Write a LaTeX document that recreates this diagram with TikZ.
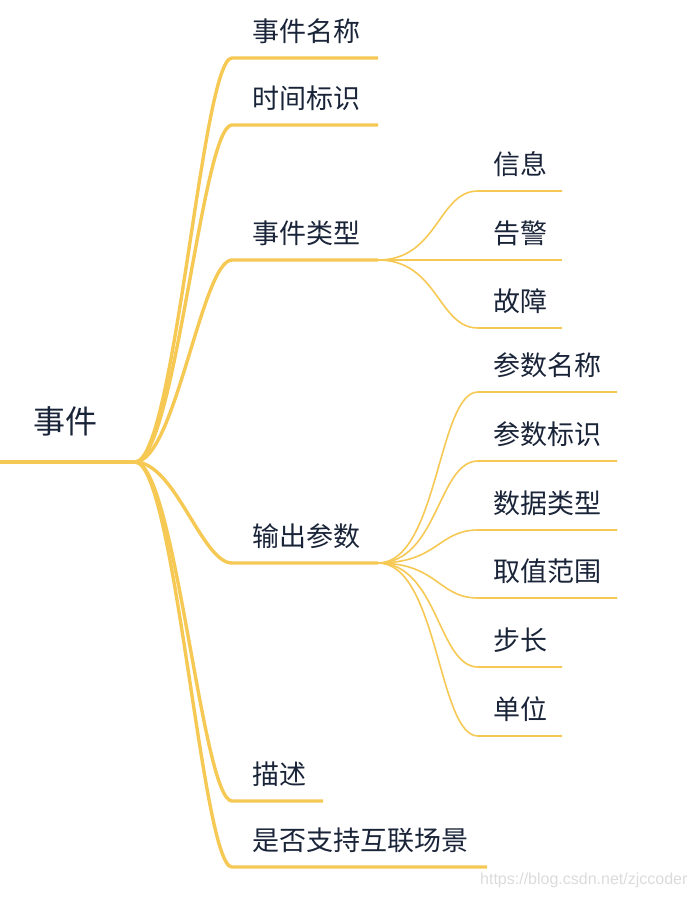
\documentclass[tikz,border=0pt]{standalone}
\usepackage{fontspec}
\newfontfamily\cjk{Noto Sans CJK SC}
\setsansfont{Liberation Sans}
\definecolor{branch}{RGB}{246,200,84}
\definecolor{ink}{RGB}{26,36,56}
\tikzset{
  topic/.style={anchor=west, inner sep=0pt, text=ink, font=\cjk\fontsize{27bp}{32bp}\selectfont},
  main/.style={draw=branch, line width=3.4bp},
  sub/.style={draw=branch, line width=1.6bp},
}
\begin{document}
\begin{tikzpicture}[x=1bp, y=-1bp]
    \useasboundingbox (0,0) rectangle (696,898);
    % root
    \node[topic, font=\cjk\fontsize{32bp}{38bp}\selectfont] (evt) at (33,421) {事件};
    \coordinate (evt-l) at (0,462);
    \coordinate (evt-r) at (135,462);
    % first level
    \node[topic] (name) at (252,31) {事件名称};
    \coordinate (name-l) at (232,58);   \coordinate (name-r) at (378,58);
    \node[topic] (id) at (252,98) {时间标识};
    \coordinate (id-l) at (232,125);    \coordinate (id-r) at (378,125);
    \node[topic] (type) at (252,233) {事件类型};
    \coordinate (type-l) at (232,260);  \coordinate (type-r) at (378,260);
    \node[topic] (out) at (252,536) {输出参数};
    \coordinate (out-l) at (232,563);   \coordinate (out-r) at (378,563);
    \node[topic] (desc) at (252,774) {描述};
    \coordinate (desc-l) at (232,801);  \coordinate (desc-r) at (323,801);
    \node[topic] (link) at (252,840) {是否支持互联场景};
    \coordinate (link-l) at (232,867);  \coordinate (link-r) at (487,867);
    % event type
    \node[topic] (info) at (493,164) {信息};
    \coordinate (info-l) at (478,191);  \coordinate (info-r) at (562,191);
    \node[topic] (alarm) at (493,233) {告警};
    \coordinate (alarm-l) at (478,260); \coordinate (alarm-r) at (562,260);
    \node[topic] (fault) at (493,301) {故障};
    \coordinate (fault-l) at (478,328); \coordinate (fault-r) at (562,328);
    % output parameters
    \node[topic] (pname) at (493,365) {参数名称};
    \coordinate (pname-l) at (478,392); \coordinate (pname-r) at (617,392);
    \node[topic] (pid) at (493,434) {参数标识};
    \coordinate (pid-l) at (478,461);   \coordinate (pid-r) at (617,461);
    \node[topic] (dtype) at (493,503) {数据类型};
    \coordinate (dtype-l) at (478,530); \coordinate (dtype-r) at (617,530);
    \node[topic] (range) at (493,571) {取值范围};
    \coordinate (range-l) at (478,598); \coordinate (range-r) at (617,598);
    \node[topic] (stepsz) at (493,640) {步长};
    \coordinate (stepsz-l) at (478,667); \coordinate (stepsz-r) at (562,667);
    \node[topic] (unit) at (493,709) {单位};
    \coordinate (unit-l) at (478,736);  \coordinate (unit-r) at (562,736);
    % branches
    \draw[main] (evt-l) -- (evt-r);
    \draw[main] (evt-r) .. controls +(40,0) and +(-30,0) .. (name-l) -- (name-r);
    \draw[main] (evt-r) .. controls +(40,0) and +(-30,0) .. (id-l) -- (id-r);
    \draw[main] (evt-r) .. controls +(40,0) and +(-30,0) .. (type-l) -- (type-r);
    \draw[main] (evt-r) .. controls +(40,0) and +(-30,0) .. (out-l) -- (out-r);
    \draw[main] (evt-r) .. controls +(40,0) and +(-30,0) .. (desc-l) -- (desc-r);
    \draw[main] (evt-r) .. controls +(40,0) and +(-30,0) .. (link-l) -- (link-r);
    \draw[sub] (type-r) .. controls +(60,0) and +(-40,0) .. (info-l) -- (info-r);
    \draw[sub] (type-r) -- (alarm-l) -- (alarm-r);
    \draw[sub] (type-r) .. controls +(60,0) and +(-40,0) .. (fault-l) -- (fault-r);
    \draw[sub] (out-r) .. controls +(60,0) and +(-40,0) .. (pname-l) -- (pname-r);
    \draw[sub] (out-r) .. controls +(60,0) and +(-40,0) .. (pid-l) -- (pid-r);
    \draw[sub] (out-r) .. controls +(60,0) and +(-40,0) .. (dtype-l) -- (dtype-r);
    \draw[sub] (out-r) .. controls +(60,0) and +(-40,0) .. (range-l) -- (range-r);
    \draw[sub] (out-r) .. controls +(60,0) and +(-40,0) .. (stepsz-l) -- (stepsz-r);
    \draw[sub] (out-r) .. controls +(60,0) and +(-40,0) .. (unit-l) -- (unit-r);
    % watermark
    \node[anchor=west, inner sep=0pt, text=black!14, font=\sffamily\fontsize{16bp}{19bp}\selectfont] (mark) at (480,880) {https://blog.csdn.net/zjccoder};
\end{tikzpicture}
\end{document}
